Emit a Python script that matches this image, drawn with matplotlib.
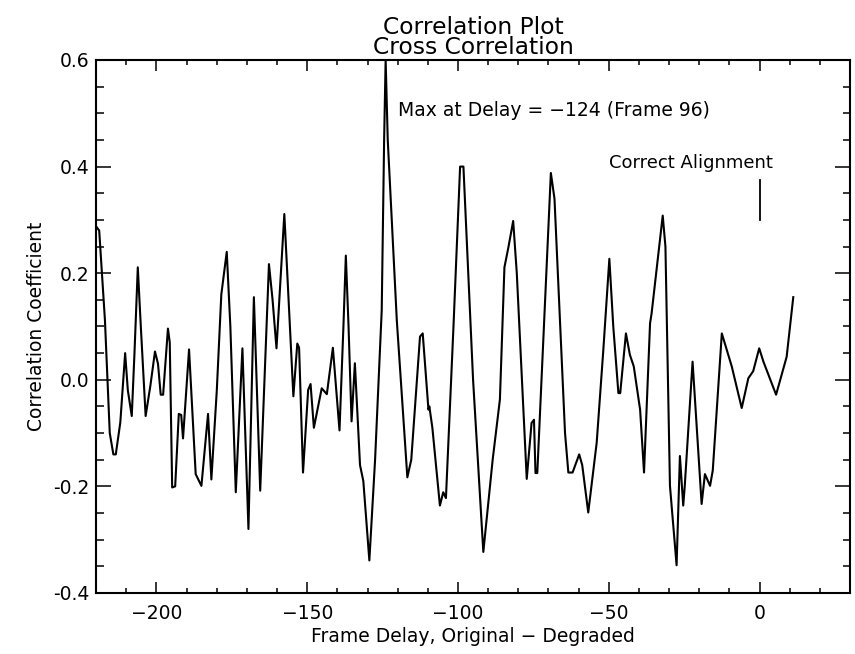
import matplotlib
matplotlib.use('Agg')
import matplotlib.pyplot as plt
from matplotlib.ticker import MultipleLocator, FormatStrFormatter

# ==================== data ====================
delay = [-219.8, -219.0, -217.1, -215.5, -214.3, -213.5, -212.0, -210.4, -209.5, -208.2,
         -207.3, -206.2, -205.2, -203.6, -202.0, -200.5, -199.5, -198.6, -197.8, -196.2,
         -195.6, -194.8, -193.8, -192.6, -191.8, -191.2, -189.2, -187.0, -185.1, -182.9,
         -181.8, -180.0, -178.5, -176.7, -175.5, -173.7, -171.5, -169.5, -167.7, -165.6,
         -162.7, -161.5, -160.2, -157.6, -154.6, -153.3, -152.7, -151.4, -149.7, -148.9,
         -147.8, -145.2, -143.5, -141.5, -139.3, -138.0, -137.2, -136.3, -135.3, -134.2,
         -132.5, -131.4, -129.4, -127.5, -125.3, -124.5, -124.0, -123.3, -120.3, -116.8,
         -115.5, -112.6, -111.7, -109.8, -109.5, -108.5, -106.0, -104.9, -104.0, -101.5,
         -99.3, -98.2, -95.0, -91.6, -88.5, -86.1, -84.6, -83.3, -81.7, -80.5,
         -77.2, -75.6, -74.8, -74.3, -73.7, -69.2, -68.0, -64.5, -63.4, -62.0,
         -59.8, -58.8, -56.8, -54.0, -51.8, -49.8, -48.5, -46.8, -46.2, -44.3,
         -43.0, -41.7, -39.6, -38.3, -36.3, -35.8, -32.1, -31.2, -29.7, -27.5,
         -26.4, -25.3, -24.8, -22.2, -19.2, -18.1, -16.4, -15.5, -12.5, -9.2,
         -5.9, -3.7, -2.1, -0.1, 1.3, 5.5, 9.0, 11.2]
corr = [0.286, 0.280, 0.112, -0.100, -0.140, -0.140, -0.080, 0.050, -0.020, -0.068,
        0.050, 0.211, 0.100, -0.068, -0.010, 0.053, 0.030, -0.028, -0.028, 0.096,
        0.070, -0.202, -0.200, -0.064, -0.066, -0.110, 0.057, -0.177, -0.199, -0.064,
        -0.187, -0.020, 0.160, 0.240, 0.100, -0.211, 0.059, -0.280, 0.155, -0.208,
        0.217, 0.150, 0.059, 0.311, -0.031, 0.068, 0.060, -0.174, -0.019, -0.008,
        -0.090, -0.016, -0.027, 0.060, -0.095, 0.100, 0.233, 0.100, -0.078, 0.031,
        -0.160, -0.190, -0.339, -0.150, 0.130, 0.450, 0.600, 0.450, 0.112, -0.183,
        -0.150, 0.081, 0.087, -0.056, -0.050, -0.090, -0.236, -0.211, -0.222, 0.100,
        0.400, 0.400, 0.000, -0.323, -0.150, -0.037, 0.211, 0.248, 0.298, 0.200,
        -0.186, -0.081, -0.075, -0.175, -0.175, 0.388, 0.340, -0.100, -0.174, -0.174,
        -0.140, -0.160, -0.249, -0.118, 0.056, 0.227, 0.100, -0.025, -0.025, 0.087,
        0.047, 0.025, -0.056, -0.174, 0.106, 0.124, 0.308, 0.250, -0.199, -0.348,
        -0.143, -0.236, -0.200, 0.034, -0.233, -0.177, -0.199, -0.170, 0.087, 0.025,
        -0.053, 0.003, 0.016, 0.059, 0.034, -0.028, 0.043, 0.155]

max_delay = -124
max_frame = 96
align_delay = 0
align_mark = [0.30, 0.375]

plt.rcParams['font.family'] = ['DejaVu Sans']

fig = plt.figure(figsize=(8.55, 6.54), dpi=100)
ax = fig.add_axes([0.1125, 0.0933, 0.8816, 0.815])

ax.plot(delay, corr, color='black', linewidth=1.5)

# ---- annotations ----
ax.plot([align_delay, align_delay], align_mark, color='black', linewidth=1.3)
ax.text(-22.7, 0.407, 'Correct Alignment', ha='center', va='center', fontsize=13)
ax.text(-119.8, 0.505, f'Max at Delay = \u2212{abs(max_delay)} (Frame {max_frame})',
        ha='left', va='center', fontsize=13.5)

ax.set_xlim(-220, 30)
ax.set_ylim(-0.4, 0.6)
ax.xaxis.set_major_locator(MultipleLocator(50))
ax.xaxis.set_minor_locator(MultipleLocator(10))
ax.yaxis.set_major_locator(MultipleLocator(0.2))
ax.yaxis.set_minor_locator(MultipleLocator(0.05))
ax.yaxis.set_major_formatter(FormatStrFormatter('%.1f'))
ax.tick_params(which='both', direction='in', top=True, right=True, labelsize=13.5, width=1.1)
# IDL style: tick length is a fraction of the plot size
ax.tick_params(axis='x', which='major', length=7.7, pad=8)
ax.tick_params(axis='x', which='minor', length=3.9)
ax.tick_params(axis='y', which='major', length=10.8, pad=5)
ax.tick_params(axis='y', which='minor', length=5.4)
for sp in ax.spines.values():
    sp.set_linewidth(1.5)

ax.set_xlabel('Frame Delay, Original \u2212 Degraded', fontsize=13.5, labelpad=3)
ax.set_ylabel('Correlation Coefficient', fontsize=13.5, labelpad=5)
ax.set_title('Correlation Plot\nCross Correlation', fontsize=16.8, linespacing=0.83, pad=4)

fig.savefig('out.png', dpi=100, facecolor='white')
